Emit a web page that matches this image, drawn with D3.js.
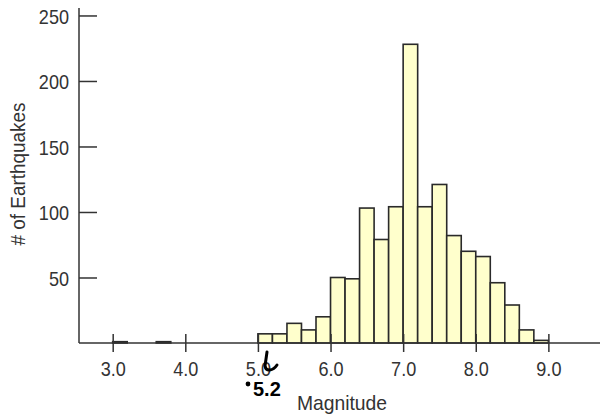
<!DOCTYPE html>
<html>
<head>
<meta charset="utf-8">
<script src="https://cdn.jsdelivr.net/npm/d3@7"></script>
<style>
  html, body { margin: 0; padding: 0; background: #fff; }
  svg { display: block; }
  text { font-family: "Liberation Sans", Arial, sans-serif; fill: #333; }
</style>
</head>
<body>
<svg id="chart" width="600" height="419"></svg>
<script>
// Histogram data: bin start (magnitude), bin width 0.2
const binStarts = [3.0, 3.6, 5.0, 5.2, 5.4, 5.6, 5.8, 6.0, 6.2, 6.4, 6.6, 6.8, 7.0, 7.2, 7.4, 7.6, 7.8, 8.0, 8.2, 8.4, 8.6, 8.8];
const counts    = [1,   1,   7,   7,   15,  10,  20,  50,  49,  103, 79,  104, 228, 104, 121, 82,  70,  66,  46,  29,  10,  2];
const binWidth = 0.2;
const xTickValues = [3.0, 4.0, 5.0, 6.0, 7.0, 8.0, 9.0];
const yTickValues = [50, 100, 150, 200, 250];
const xTitle = "Magnitude";
const yTitle = "# of Earthquakes";
const annotation = "5.2";

const bins = binStarts.map((s, i) => ({ x0: s, x1: s + binWidth, n: counts[i] }));

const svg = d3.select("#chart");
const x = d3.scaleLinear().domain([2.536, 9.711]).range([79, 600]);
const y = d3.scaleLinear().domain([0, 255.7]).range([343, 8]);

// condense text horizontally (reference uses a narrow face)
function condense(sel, f) {
  sel.each(function () {
    const w = this.getComputedTextLength();
    d3.select(this).attr("textLength", w * f).attr("lengthAdjust", "spacingAndGlyphs");
  });
}

// bars
svg.append("g").selectAll("rect").data(bins).join("rect")
  .attr("x", d => x(d.x0))
  .attr("y", d => y(d.n))
  .attr("width", d => x(d.x1) - x(d.x0))
  .attr("height", d => y(0) - y(d.n))
  .attr("fill", "#ffffcc")
  .attr("stroke", "#2a2a2a")
  .attr("stroke-width", 1.6);

// y axis
const yAxis = svg.append("g").attr("transform", `translate(${x.range()[0]},0)`)
  .call(d3.axisLeft(y).tickValues(yTickValues).tickSize(0).tickPadding(10).tickFormat(d3.format("d")));
yAxis.select(".domain").remove();
yAxis.selectAll(".tick line").attr("x1", 0).attr("x2", 18).attr("stroke", "#333").attr("stroke-width", 1.5);
yAxis.selectAll(".tick text").attr("font-size", 21).attr("fill", "#333").attr("dy", "0.36em").call(condense, 0.86);
svg.append("line").attr("x1", x.range()[0]).attr("x2", x.range()[0]).attr("y1", y.range()[1]).attr("y2", y(0))
  .attr("stroke", "#333").attr("stroke-width", 1.5);

// x axis
const xAxis = svg.append("g").attr("transform", `translate(0,${y(0)})`)
  .call(d3.axisBottom(x).tickValues(xTickValues).tickSize(0).tickFormat(d3.format(".1f")));
xAxis.select(".domain").remove();
xAxis.selectAll(".tick line").attr("y1", -9).attr("y2", 9).attr("stroke", "#333").attr("stroke-width", 1.5);
xAxis.selectAll(".tick text").attr("font-size", 21).attr("fill", "#333").attr("y", 18).attr("dy", "0.71em").call(condense, 0.86);
svg.append("line").attr("x1", x.range()[0]).attr("x2", x.range()[1]).attr("y1", y(0)).attr("y2", y(0))
  .attr("stroke", "#333").attr("stroke-width", 1.5);

// titles
svg.append("text").attr("x", 342).attr("y", 410).attr("text-anchor", "middle")
  .attr("font-size", 21).text(xTitle).call(condense, 0.92);
svg.append("text").attr("transform", "translate(25,174) rotate(-90)").attr("text-anchor", "middle")
  .attr("font-size", 21).text(yTitle).call(condense, 0.9);

// handwritten annotation
svg.append("circle").attr("cx", 248).attr("cy", 384).attr("r", 2.4).attr("fill", "#000");
svg.append("text").attr("x", 253).attr("y", 396).attr("font-size", 20).attr("font-weight", "bold")
  .attr("font-family", "DejaVu Sans, sans-serif").style("fill", "#000").text(annotation);
svg.append("path").attr("d", "M267,352 L265,366 C266,372 273,371 277,365")
  .attr("fill", "none").attr("stroke", "#000").attr("stroke-width", 3).attr("stroke-linecap", "round");
</script>
</body>
</html>
